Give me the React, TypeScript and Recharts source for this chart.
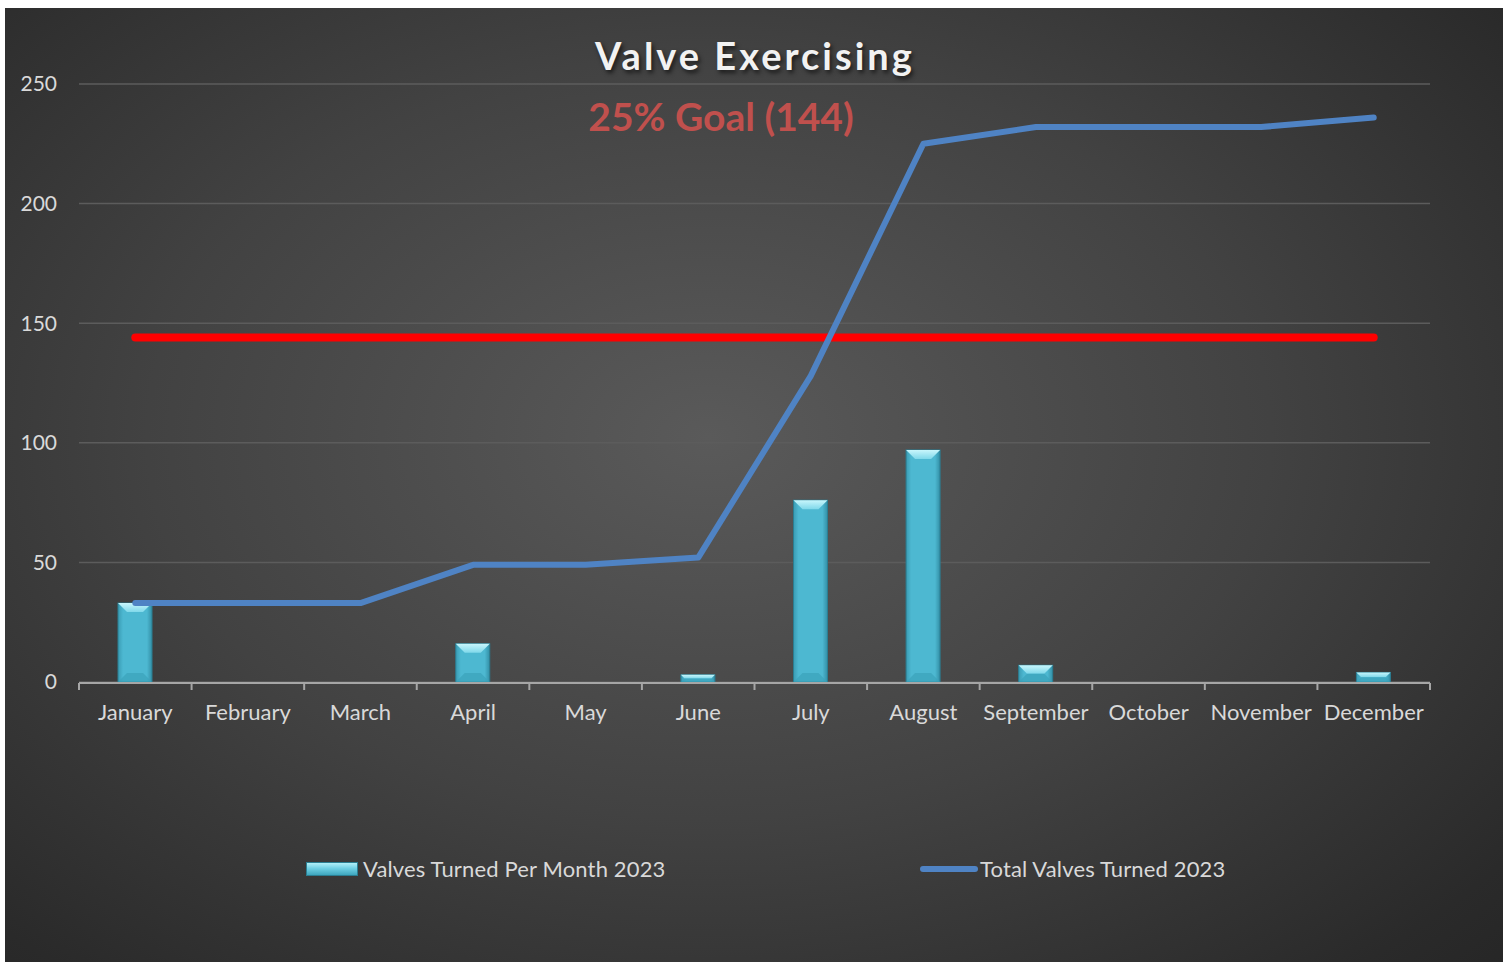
import { ComposedChart, Bar, Line, XAxis, YAxis, CartesianGrid } from "recharts";

const months = [
  "January", "February", "March", "April", "May", "June",
  "July", "August", "September", "October", "November", "December",
];
const perMonth = [33, 0, 0, 16, 0, 3, 76, 97, 7, 0, 0, 4];
const totals = [33, 33, 33, 49, 49, 52, 128, 225, 232, 232, 232, 236];
const goal = [144, 144, 144, 144, 144, 144, 144, 144, 144, 144, 144, 144];
const yTicks = [0, 50, 100, 150, 200, 250];
const boundaryTicks = [0, 1, 2, 3, 4, 5, 6, 7, 8, 9, 10, 11, 12];

const data = months.map((month, i) => ({
  month,
  perMonth: perMonth[i],
  total: totals[i],
  goal: goal[i],
  slot: i + 0.5,
}));

const FONT = "Lato, 'Noto Sans', sans-serif";
const LABEL = "#d9d9d9";

function BevelBar(props: any) {
  const { x, y, width, height } = props;
  if (!height || height <= 0) return null;
  const b = Math.min(9, height / 2, width / 3);
  return (
    <g>
      <rect x={x} y={y} width={width} height={height} fill="url(#barBody)" stroke="#2b7e92" strokeWidth={1} />
      <polygon
        points={`${x},${y} ${x + width},${y} ${x + width - b},${y + b} ${x + b},${y + b}`}
        fill="url(#barTop)"
      />
      <polygon
        points={`${x},${y + height} ${x + width},${y + height} ${x + width - b},${y + height - b} ${x + b},${y + height - b}`}
        fill="#3aa3bb"
        opacity={0.7}
      />
    </g>
  );
}

const NoLabel = () => <g />;

export default function App() {
  return (
    <div
      style={{
        position: "absolute",
        left: 5,
        top: 8,
        width: 1498,
        height: 954,
        background: "radial-gradient(ellipse 75% 80% at 47% 45%, #5a5a5a 0%, #424242 50%, #2a2a2a 90%, #262626 100%)",
        fontFamily: FONT,
      }}
    >
      <div
        style={{
          position: "absolute",
          left: 0,
          width: 1498,
          top: 24,
          textAlign: "center",
          color: "#f2f2f2",
          fontSize: 38,
          fontWeight: 700,
          letterSpacing: 3,
          textShadow: "2px 3px 4px rgba(0,0,0,0.6)",
          transform: "translateX(1px)",
        }}
      >
        Valve Exercising
      </div>
      <div
        style={{
          position: "absolute",
          left: 0,
          width: 1498,
          top: 85,
          textAlign: "center",
          color: "#c0504d",
          fontSize: 39,
          fontWeight: 700,
          transform: "translateX(-33px)",
        }}
      >
        25% Goal (144)
      </div>

      <ComposedChart
        width={1498}
        height={954}
        data={data}
        margin={{ top: 76, right: 73, left: 14, bottom: 239 }}
        style={{ position: "absolute", left: 0, top: 0 }}
      >
        <defs>
          <linearGradient id="barBody" x1="0" y1="0" x2="1" y2="0">
            <stop offset="0%" stopColor="#3a9cb4" />
            <stop offset="15%" stopColor="#4db8d1" />
            <stop offset="85%" stopColor="#4db8d1" />
            <stop offset="100%" stopColor="#338fa6" />
          </linearGradient>
          <linearGradient id="barTop" x1="0" y1="0" x2="0" y2="1">
            <stop offset="0%" stopColor="#c8f6fc" />
            <stop offset="100%" stopColor="#7fd8ea" />
          </linearGradient>
        </defs>
        <CartesianGrid vertical={false} stroke="#5c5c5c" strokeWidth={1.5} />
        <XAxis
          dataKey="month"
          axisLine={false}
          tickLine={false}
          height={1}
          tickSize={0}
          tickMargin={22}
          interval={0}
          tick={{ fill: LABEL, fontSize: 22, fontFamily: FONT }}
        />
        <XAxis
          xAxisId="bounds"
          dataKey="slot"
          type="number"
          domain={[0, 12]}
          ticks={boundaryTicks}
          interval={0}
          allowDataOverflow
          tick={NoLabel}
          tickSize={7}
          height={40}
          axisLine={{ stroke: "#a6a6a6", strokeWidth: 2 }}
          tickLine={{ stroke: "#a6a6a6", strokeWidth: 2 }}
        />
        <YAxis
          domain={[0, 250]}
          ticks={yTicks}
          width={60}
          axisLine={false}
          tickLine={false}
          tickSize={0}
          tickMargin={22}
          tick={{ fill: LABEL, fontSize: 21, fontFamily: FONT }}
        />
        <Bar dataKey="perMonth" barSize={34} shape={<BevelBar />} isAnimationActive={false} />
        <Line
          dataKey="goal"
          stroke="#ff0000"
          strokeWidth={8}
          strokeLinecap="round"
          dot={false}
          activeDot={false}
          isAnimationActive={false}
        />
        <Line
          dataKey="total"
          stroke="#4f83c4"
          strokeWidth={6}
          strokeLinecap="round"
          strokeLinejoin="round"
          dot={false}
          activeDot={false}
          isAnimationActive={false}
        />
      </ComposedChart>

      <div
        style={{
          position: "absolute",
          left: 301,
          top: 847,
          display: "flex",
          alignItems: "center",
          color: LABEL,
          fontSize: 22,
          letterSpacing: 0.15,
        }}
      >
        <svg width={52} height={14} style={{ marginRight: 5 }}>
          <defs>
            <linearGradient id="legendBar" x1="0" y1="0" x2="0" y2="1">
              <stop offset="0%" stopColor="#b8f2fa" />
              <stop offset="45%" stopColor="#6fd0e4" />
              <stop offset="100%" stopColor="#3aa3bb" />
            </linearGradient>
          </defs>
          <rect x={0.5} y={0.5} width={51} height={13} fill="url(#legendBar)" stroke="#2b7e92" />
        </svg>
        <span>Valves Turned Per Month 2023</span>
      </div>
      <div
        style={{
          position: "absolute",
          left: 915,
          top: 847,
          display: "flex",
          alignItems: "center",
          color: LABEL,
          fontSize: 22,
          letterSpacing: 0.15,
        }}
      >
        <svg width={58} height={14} style={{ marginRight: 2 }}>
          <line x1={3} y1={7} x2={55} y2={7} stroke="#4f83c4" strokeWidth={6} strokeLinecap="round" />
        </svg>
        <span>Total Valves Turned 2023</span>
      </div>
    </div>
  );
}
